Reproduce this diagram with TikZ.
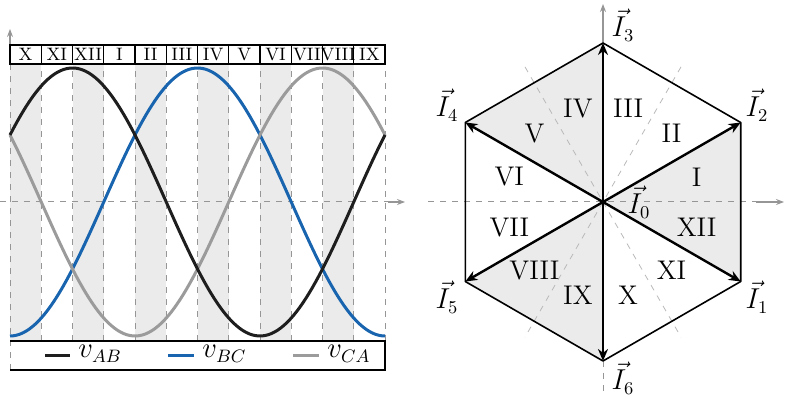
\documentclass[tikz,border=0pt]{standalone}
\usepackage{amsmath}
\usetikzlibrary{arrows.meta}
\definecolor{vab}{RGB}{30,30,30}
\definecolor{vbc}{RGB}{25,100,175}
\definecolor{vca}{RGB}{155,155,155}
\definecolor{secgray}{RGB}{235,235,235}
\definecolor{axisgray}{RGB}{150,150,150}
\begin{document}
\begin{tikzpicture}[x=0.5pt, y=0.5pt, >={Stealth[length=6pt,width=5pt]},
    sec/.style={font=\small, inner sep=0pt},
    hexlab/.style={font=\fontsize{13.5}{16}\selectfont, inner sep=0pt},
    gridline/.style={dashed, axisgray, line width=0.5pt},
    axisarrow/.style={axisgray, line width=0.6pt, -{Stealth[length=4pt,width=3pt]}},
    wave/.style={line width=1.5pt}]
    \useasboundingbox (0,0) rectangle (785,395);

    % 1. 左图：阴影扇区与辅助虚线
    \foreach \k in {0,2,...,10}
        \fill[secgray] ({10+31.25*\k},54) rectangle ({10+31.25*(\k+1)},331);
    \foreach \k in {1,...,12}
        \draw[gridline] ({10+31.25*\k},54) -- ({10+31.25*\k},331);

    % 2. 坐标轴
    \draw[gridline] (10,25) -- (10,331);
    \draw[axisarrow] (10,350) -- (10,366);
    \draw[gridline] (0,193) -- (392,193);
    \draw[axisarrow] (388,193) -- (405,193);

    % 3. 三相线电压
    \draw[wave, vbc] plot[domain=0:360, samples=120] ({10+\x*1.041667},{193+134*cos(\x-180)});
    \draw[wave, vca] plot[domain=0:360, samples=120] ({10+\x*1.041667},{193+134*cos(\x+60)});
    \draw[wave, vab] plot[domain=0:360, samples=120] ({10+\x*1.041667},{193+134*cos(\x-60)});

    % 4. 扇区编号
    \foreach \lab [count=\k from 0] in {X,XI,XII,I,II,III,IV,V,VI,VII,VIII,IX} {
        \draw[line width=0.6pt] ({10+31.25*\k},331) rectangle ({10+31.25*(\k+1)},350);
        \node[sec] (s\k) at ({25.625+31.25*\k},340.5) {\lab};
    }

    % 5. 图例
    \draw[line width=0.6pt] (10,54) -- (385,54) -- (385,25) -- (10,25);
    \draw[wave, vab] (45,39) -- (70,39);
    \draw[wave, vbc] (168,39) -- (194,39);
    \draw[wave, vca] (293,39) -- (319,39);
    \node[hexlab, anchor=base west] (lab) at (78,37) {$v_{AB}$};
    \node[hexlab, anchor=base west] (lbc) at (202,37) {$v_{BC}$};
    \node[hexlab, anchor=base west] (lca) at (327,37) {$v_{CA}$};

    % 6. 右图：六边形顶点
    \coordinate (O) at (603,193);
    \foreach \i/\a in {1/-30,2/30,3/90,4/150,5/210,6/270}
        \path (O) ++(\a:159) coordinate (I\i);

    % 7. 阴影三角形与辅助线
    \fill[secgray] (O) -- (I3) -- (I4) -- cycle;
    \fill[secgray] (O) -- (I1) -- (I2) -- cycle;
    \fill[secgray] (O) -- (I5) -- (I6) -- cycle;
    \foreach \a in {60,120} {
        \path (O) ++(\a:156) coordinate (da\a);
        \path (O) ++(\a+180:156) coordinate (db\a);
        \draw[dashed, gray!55, line width=0.4pt] (da\a) -- (db\a);
    }
    \draw[gridline] (428,193) -- (758,193);
    \draw[axisarrow] (756,193) -- (784,193);
    \draw[axisarrow] (I3) -- (603,391);
    \draw[gridline] (I6) -- (603,0);

    % 8. 六边形与电流矢量
    \draw[line width=0.8pt, line join=round] (I1) -- (I2) -- (I3) -- (I4) -- (I5) -- (I6) -- cycle;
    \foreach \i in {1,2,4,5}
        \draw[line width=1.2pt, ->] (O) -- (I\i);
    \draw[line width=1.2pt, <->] (I6) -- (I3);

    % 9. 矢量标签
    \node[hexlab] (lI3) at (623,370) {$\vec{I}_3$};
    \node[hexlab] (lI6) at (623,17) {$\vec{I}_6$};
    \node[hexlab] (lI2) at (757,290) {$\vec{I}_2$};
    \node[hexlab] (lI1) at (757,98) {$\vec{I}_1$};
    \node[hexlab] (lI4) at (447,290) {$\vec{I}_4$};
    \node[hexlab] (lI5) at (447,98) {$\vec{I}_5$};
    \node[hexlab] (lI0) at (639,193) {$\vec{I}_0$};
    \foreach \lab [count=\k from 0] in {I,II,III,IV,V,VI,VII,VIII,IX,X,XI,XII}
        \path (O) ++({15+30*\k}:97) node[hexlab] (h\k) {\lab};
\end{tikzpicture}
\end{document}
